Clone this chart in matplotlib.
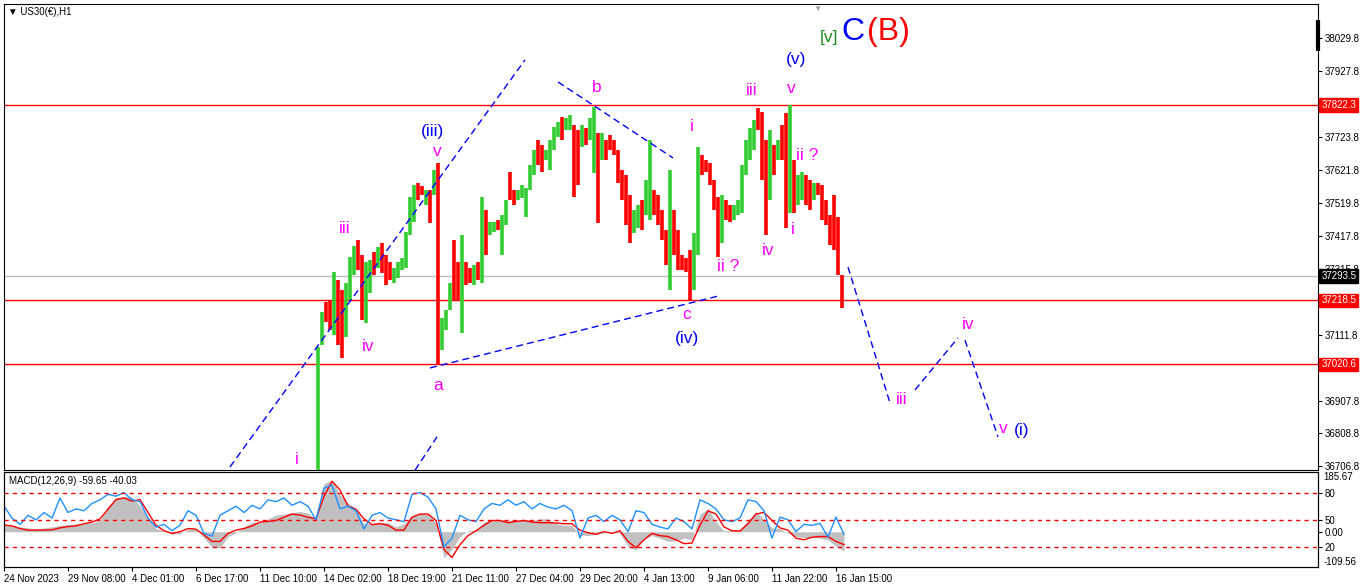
import matplotlib
matplotlib.use("Agg")
import matplotlib.pyplot as plt
import matplotlib.transforms as mtransforms
import numpy as np

plt.rcParams["font.family"] = ["Liberation Sans", "DejaVu Sans"]

# H1 chart, drawn here as 4-hour bars; first visible bar is hour 314
bar_start = 314
bar_step = 4
highs = [37075, 37183, 37214, 37220, 37307, 37282, 37251, 37273, 37353, 37387,
         37405, 37359, 37337, 37343, 37368, 37384, 37396, 37359, 37337, 37319,
         37337, 37350, 37430, 37538, 37575, 37582, 37572, 37560, 37560, 37622,
         37644, 37164, 37189, 37273, 37405, 37337, 37421, 37337, 37319, 37328,
         37337, 37538, 37498, 37461, 37461, 37467, 37483, 37529, 37616, 37560,
         37560, 37575, 37566, 37637, 37684, 37714, 37699, 37684, 37714, 37755,
         37770, 37786, 37783, 37792, 37761, 37745, 37761, 37752, 37783, 37817,
         37736, 37736, 37715, 37730, 37715, 37684, 37622, 37606, 37545, 37498,
         37514, 37529, 37591, 37715, 37560, 37545, 37498, 37436, 37622, 37498,
         37436, 37359, 37350, 37374, 37427, 37693, 37668, 37653, 37644, 37591,
         37538, 37545, 37529, 37514, 37514, 37529, 37637, 37714, 37752, 37776,
         37813, 37801, 37714, 37745, 37699, 37714, 37761, 37798, 37823, 37653,
         37606, 37616, 37606, 37591, 37582, 37582, 37575, 37529, 37483, 37545,
         37477, 37297]
lows = [36650, 37081, 37152, 37127, 37112, 37081, 37041, 37106, 37220, 37297,
        37313, 37158, 37149, 37242, 37297, 37319, 37303, 37266, 37282, 37273,
        37288, 37313, 37319, 37421, 37461, 37529, 37545, 37514, 37458, 37545,
        37019, 37065, 37127, 37189, 37220, 37220, 37118, 37266, 37273, 37266,
        37282, 37273, 37359, 37421, 37430, 37436, 37359, 37452, 37529, 37514,
        37529, 37535, 37477, 37560, 37606, 37637, 37616, 37653, 37622, 37684,
        37724, 37714, 37745, 37745, 37538, 37575, 37693, 37699, 37715, 37613,
        37458, 37653, 37653, 37684, 37668, 37582, 37529, 37452, 37396, 37427,
        37443, 37436, 37483, 37467, 37483, 37452, 37405, 37328, 37251, 37359,
        37313, 37313, 37307, 37217, 37251, 37359, 37606, 37616, 37575, 37498,
        37353, 37396, 37467, 37461, 37467, 37483, 37489, 37606, 37653, 37684,
        37745, 37591, 37421, 37529, 37606, 37653, 37653, 37443, 37490, 37490,
        37514, 37529, 37514, 37498, 37529, 37545, 37467, 37452, 37390, 37374,
        37297, 37195]
bar_up = [1, 1, 0, 0, 1, 0, 0, 1, 1, 1,
          0, 0, 1, 1, 0, 1, 0, 0, 0, 1,
          1, 1, 1, 1, 1, 0, 0, 1, 0, 1,
          0, 1, 1, 1, 0, 0, 1, 0, 0, 1,
          0, 1, 0, 1, 1, 0, 1, 1, 0, 0,
          1, 1, 1, 1, 1, 0, 0, 1, 1, 1,
          1, 0, 1, 1, 0, 0, 1, 0, 1, 1,
          0, 1, 0, 0, 0, 0, 0, 0, 0, 1,
          1, 0, 1, 1, 0, 0, 0, 0, 1, 0,
          0, 0, 0, 0, 1, 1, 0, 0, 0, 0,
          0, 1, 0, 0, 1, 1, 1, 1, 1, 1,
          0, 0, 0, 1, 0, 1, 0, 0, 1, 0,
          1, 1, 0, 0, 1, 0, 0, 0, 0, 0,
          0, 0]

last_price = 37293.5
level_prices = [37822.3, 37218.5, 37020.6]
price_ticks = [38029.8, 37927.8, 37723.8, 37621.8, 37519.8, 37417.8, 37315.8,
               37111.8, 36907.8, 36808.8, 36706.8]

time_ticks = [0, 64, 128, 192, 256, 320, 384, 448, 512, 576, 640, 704, 768, 832]
time_labels = ["24 Nov 2023", "29 Nov 08:00", "4 Dec 01:00", "6 Dec 17:00",
               "11 Dec 10:00", "14 Dec 02:00", "18 Dec 19:00", "21 Dec 11:00",
               "27 Dec 04:00", "29 Dec 20:00", "4 Jan 13:00", "9 Jan 06:00",
               "11 Jan 22:00", "16 Jan 15:00"]

# MACD panel, sampled every 8 hours
macd_step = 8
macd_main = [20, 18, 15, 12, 10, 12, 15, 20, 22, 25,
             25, 28, 35, 80, 105, 110, 108, 80, 45, 10,
             3, -8, -5, 8, 10, -20, -48, -50, -15, -3,
             15, 30, 30, 40, 52, 55, 60, 63, 58, 40,
             150, 160, 115, 90, 70, 25, 25, 30, 28, 15,
             25, 50, 57, 55, 25, -80, -55, -15, 3, 5,
             30, 38, 38, 35, 35, 38, 35, 40, 40, 25,
             20, 20, -10, -12, -8, -3, -2, -5, -45, -57,
             -20, -12, -20, -30, -28, -20, -25, 55, 72, 30,
             3, 5, 8, 35, 63, 40, 12, 10, -5, -15,
             -18, -18, -20, -25, -45, -60]
macd_signal = [21, 18, 10, 5, 5, 5, 6, 12, 16, 18,
               25, 30, 40, 70, 100, 105, 95, 100, 60, 20,
               3, -5, 0, 10, 8, -10, -30, -30, -5, 5,
               10, 18, 30, 32, 35, 45, 55, 52, 45, 40,
               110, 157, 130, 80, 70, 40, 22, 25, 20, 5,
               5, 45, 55, 55, 35, -55, -80, -40, -12, 3,
               20, 35, 35, 28, 32, 35, 30, 28, 28, 27,
               25, 25, 5, -3, -8, 0, -5, 3, -30, -50,
               -25, -5, -12, -15, -25, -37, -35, 20, 65, 55,
               15, 3, 2, 25, 55, 60, 35, 12, 5, -20,
               -25, -17, -15, -15, -30, -40]
osc_line = [65, 52, 45, 55, 50, 58, 52, 74, 58, 62,
            60, 68, 72, 78, 76, 80, 72, 70, 52, 42,
            45, 38, 44, 60, 55, 35, 32, 55, 60, 65,
            58, 66, 62, 72, 70, 74, 66, 70, 65, 50,
            85, 88, 62, 65, 60, 40, 55, 58, 52, 50,
            48, 78, 80, 75, 62, 20, 30, 55, 50, 48,
            62, 68, 66, 72, 66, 70, 62, 68, 64, 62,
            66, 60, 30, 52, 55, 48, 55, 50, 37, 60,
            58, 45, 42, 40, 52, 48, 40, 72, 68, 62,
            50, 48, 52, 72, 70, 60, 30, 53, 50, 37,
            45, 44, 46, 31, 53, 34]
osc_levels = [80, 50, 20]

# Elliott wave labels: (hour, price, text, colour, size)
wave_labels = [
    (293, 36728, "i", "#FF00FF", 12.5), (341, 37442, "iii", "#FF00FF", 12.5),
    (364, 37075, "iv", "#FF00FF", 12.5), (429, 37742, "(iii)", "#0000FF", 12.5),
    (433, 37680, "v", "#FF00FF", 12.5), (434, 36957, "a", "#FF00FF", 12.5),
    (593, 37878, "b", "#FF00FF", 12.5), (683, 37174, "c", "#FF00FF", 12.5),
    (683, 37102, "(iv)", "#0000FF", 12.5), (688, 37755, "i", "#FF00FF", 12.5),
    (724, 37322, "ii ?", "#FF00FF", 12.5), (748, 37869, "iii", "#FF00FF", 12.5),
    (764, 37374, "iv", "#FF00FF", 12.5), (787, 37875, "v", "#FF00FF", 12.5),
    (792, 37962, "(v)", "#0000FF", 12.5), (825, 38030, "[v]", "#1E8B1E", 12.5),
    (849, 38048, "C", "#0000FF", 23), (884, 38048, "(B)", "#FF0000", 23),
    (803, 37668, "ii ?", "#FF00FF", 12.5), (789, 37439, "i", "#FF00FF", 12.5),
    (898, 36911, "iii", "#FF00FF", 12.5), (964, 37143, "iv", "#FF00FF", 12.5),
    (999, 36824, "v", "#FF00FF", 12.5), (1018, 36818, "(i)", "#0000FF", 12.5),
]

# dashed trend lines and projection: ((hour, price), (hour, price))
trend_lines = [
    ((226, 36704), (521, 37962)),
    ((411, 36694), (433, 36797)),
    ((426, 37010), (714, 37232)),
    ((554, 37894), (669, 37659)),
    ((844, 37322), (886, 36902)),
    ((911, 36942), (954, 37103)),
    ((961, 37096), (994, 36797)),
]

fig = plt.figure(figsize=(13.66, 5.88), dpi=100)
ax = fig.add_axes([4 / 1366, 1 - 470 / 588, 1314 / 1366, 466 / 588])
axm = fig.add_axes([4 / 1366, 1 - 567 / 588, 1314 / 1366, 95 / 588], sharex=ax)

# price bars
bar_x = bar_start + bar_step * np.arange(len(highs))
bar_colors = ["#32CD32" if u else "#FF0000" for u in bar_up]
ax.vlines(bar_x, lows, highs, colors=bar_colors, linewidth=2.6, zorder=3)

for p in level_prices:
    ax.axhline(p, color="#FF0000", lw=1, zorder=2)
ax.axhline(last_price, color="#C0C0C0", lw=1, zorder=1)

for (x0, y0), (x1, y1) in trend_lines:
    ax.plot([x0, x1], [y0, y1], color="#0000FF", lw=1, ls=(0, (5, 3)), zorder=4)

for x, y, t, c, s in wave_labels:
    ax.text(x, y, t, color=c, fontsize=s, ha="center", va="center", zorder=5)

ax.set_xlim(0, 1314)
ax.set_ylim(36694.5, 38134.9)
ax.yaxis.tick_right()
ax.set_yticks(price_ticks)
ax.set_yticklabels([f"{p:.1f}" for p in price_ticks])
ax.tick_params(axis="y", labelsize=7, length=3, pad=2)
ax.tick_params(axis="x", bottom=False, labelbottom=False)

trans = mtransforms.blended_transform_factory(ax.transAxes, ax.transData)
for p, c in [(37822.3, "#FF0000"), (last_price, "#000000"),
             (37218.5, "#FF0000"), (37020.6, "#FF0000")]:
    ax.text(1.0025, p, f"{p:.1f}", transform=trans, color="white", fontsize=7,
            ha="left", va="center", zorder=6,
            bbox=dict(boxstyle="square,pad=0.2", fc=c, ec=c))

ax.plot([1.0, 1.0], [0.965, 0.9], transform=ax.transAxes, color="black",
        lw=3, clip_on=False, solid_capstyle="butt")
ax.text(813, 38128, "\u25bc", color="#A0A0A0", fontsize=6, ha="center", va="top")
ax.text(0.003, 0.983, "\u25bc US30(\u20ac),H1", transform=ax.transAxes,
        fontsize=7, ha="left", va="center")

# MACD panel
mx = macd_step * np.arange(len(macd_main))
axm.fill_between(mx, 0, macd_main, color="#C0C0C0", lw=0)
axm.plot(mx, macd_signal, color="#FF0000", lw=1)
axm.set_ylim(-109.56, 185.67)

axo = axm.twinx()
axo.plot(mx, osc_line, color="#1E90FF", lw=1)
for lv in osc_levels:
    axo.axhline(lv, color="#FF0000", lw=1, ls=(0, (3, 3)))
axo.set_ylim(-1.9, 102.6)
axo.set_yticks(osc_levels)
axo.set_yticklabels([str(v) for v in osc_levels])
axo.tick_params(axis="y", labelsize=7, length=3, pad=2)

# twinx moves the MACD scale to the left, so put it back on the right
axm.yaxis.tick_right()
axm.set_yticks([0])
axm.set_yticklabels(["0.00"])
axm.tick_params(axis="y", labelsize=7, length=3, pad=2)
tm = mtransforms.blended_transform_factory(axm.transAxes, axm.transData)
axm.text(1.004, 185.67, "185.67", transform=tm, fontsize=7, ha="left", va="top")
axm.text(1.004, -109.56, "-109.56", transform=tm, fontsize=7, ha="left",
         va="bottom")

axm.set_xticks(time_ticks)
axm.set_xticklabels(time_labels, ha="left")
axm.tick_params(axis="x", labelsize=7, length=3, pad=2)
axm.text(0.004, 0.9, "MACD(12,26,9) -59.65 -40.03", transform=axm.transAxes,
         fontsize=7, ha="left", va="center")

fig.savefig("out.png", dpi=100)
